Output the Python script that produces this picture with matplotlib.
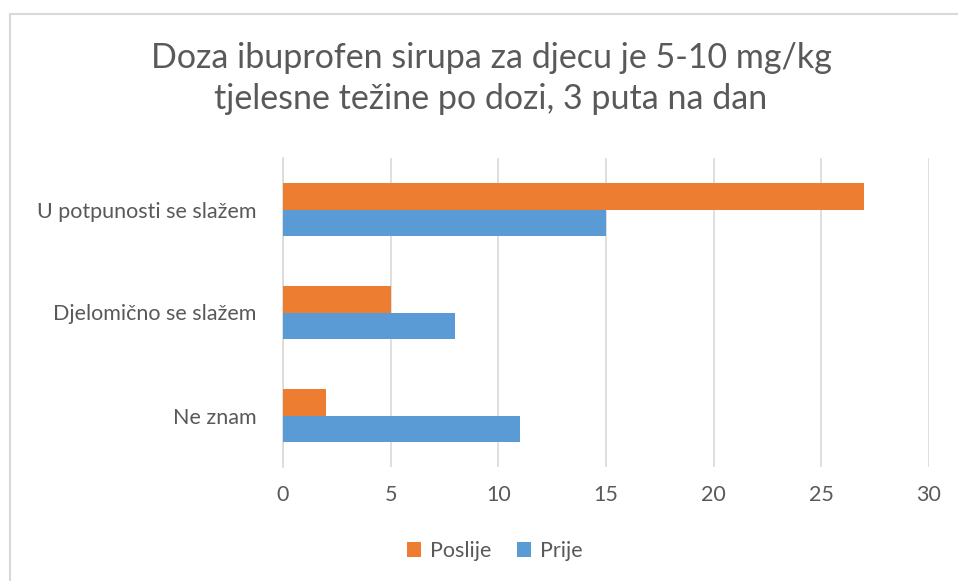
import matplotlib.pyplot as plt
import numpy as np

plt.rcParams['font.family'] = ['Lato', 'DejaVu Sans']

categories = ['U potpunosti se slažem', 'Djelomično se slažem', 'Ne znam']
poslije = [27, 5, 2]
prije = [15, 8, 11]
x_ticks = [0, 5, 10, 15, 20, 25, 30]
title_lines = ['Doza ibuprofen sirupa za djecu je 5-10 mg/kg',
               'tjelesne težine po dozi, 3 puta na dan']

W, H = 958, 581
fig = plt.figure(figsize=(W / 100, H / 100), dpi=100)
ax = fig.add_axes([283 / W, 1 - 467 / H, 646 / W, 309 / H])

y = np.arange(len(categories))
h = 0.255
ax.barh(y - h / 2, poslije, height=h, color='#ED7D31', label='Poslije', zorder=3)
ax.barh(y + h / 2, prije, height=h, color='#5B9BD5', label='Prije', zorder=3)

ax.set_ylim(2.5, -0.5)
ax.set_xlim(0, 30)
ax.set_yticks(y)
ax.set_yticklabels(categories)
ax.set_xticks(x_ticks)
ax.tick_params(length=0, labelsize=15.5, colors='#595959')
ax.tick_params(axis='x', pad=13)
ax.tick_params(axis='y', pad=19)
ax.grid(axis='x', color='#D9D9D9', lw=1.2, zorder=0)
for s in ['top', 'right', 'bottom']:
    ax.spines[s].set_visible(False)
ax.spines['left'].set_color('#D9D9D9')
ax.spines['left'].set_linewidth(1.2)

# title, two lines placed by baseline
for txt, base in zip(title_lines, [68, 109]):
    fig.text(491 / W, 1 - base / H, txt, ha='center', va='baseline',
             fontsize=24.5, color='#595959')

handles, labels = ax.get_legend_handles_labels()
fig.legend(handles, labels, loc='center', bbox_to_anchor=(495 / W, 1 - 551 / H), ncol=2,
           frameon=False, fontsize=15.5, labelcolor='#595959',
           handlelength=0.65, handleheight=0.65, handletextpad=0.4, columnspacing=1.2)

# chart frame (only left and top edges fall inside the image)
fig.add_artist(plt.Line2D([10 / W, 10 / W], [0, 1 - 14 / H], color='#D9D9D9', lw=1.5))
fig.add_artist(plt.Line2D([10 / W, 1], [1 - 14 / H, 1 - 14 / H], color='#D9D9D9', lw=1.5))

fig.savefig('out.png', dpi=100)
